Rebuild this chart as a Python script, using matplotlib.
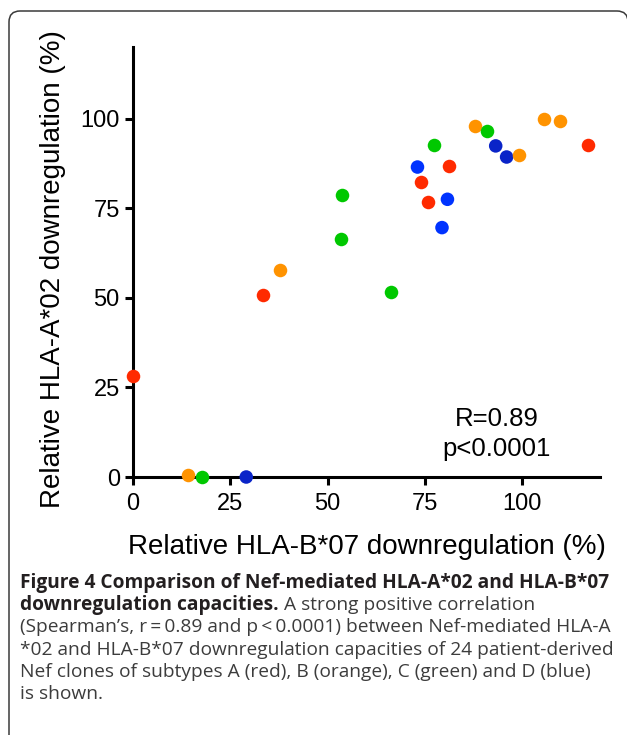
import matplotlib
matplotlib.use('Agg')
import matplotlib.pyplot as plt
from matplotlib.patches import FancyBboxPatch

# subtype A (red), B (orange), C (green), D (blue)
red_x = [0, 33.4, 74.1, 75.9, 81.2, 117.0]
red_y = [28.3, 50.8, 82.4, 76.8, 86.9, 92.7]
orange_x = [14.1, 37.7, 88.0, 99.1, 105.6, 109.6]
orange_y = [0.5, 57.8, 98.0, 90.0, 99.8, 99.4]
green_x = [17.7, 53.8, 53.5, 66.4, 77.3, 91.0]
green_y = [0, 78.7, 66.3, 51.7, 92.7, 96.5]
blue_x = [29.1, 73.1, 80.8, 79.4, 93.2, 96.0]
blue_y = [0, 86.5, 77.5, 69.6, 92.4, 89.3]

ticks = [0, 25, 50, 75, 100]
stats_text = 'R=0.89\np<0.0001'

caption_bold1 = 'Figure 4 Comparison of Nef-mediated HLA-A*02 and HLA-B*07'
caption_bold2 = 'downregulation capacities.'
caption_rest2 = ' A strong positive correlation'
caption_lines = [
    '(Spearman\u2019s, r\u2009=\u20090.89 and p\u2009<\u20090.0001) between Nef-mediated HLA-A',
    '*02 and HLA-B*07 downregulation capacities of 24 patient-derived',
    'Nef clones of subtypes A (red), B (orange), C (green) and D (blue)',
    'is shown.',
]

W, H = 627, 735
fig = plt.figure(figsize=(W / 100, H / 100), dpi=100)
ax = fig.add_axes([133 / W, 1 - 477 / H, 467 / W, 430 / H])

chart_font = 'Liberation Sans'
ms = 95
blue_shades = ['#0a24c8', '#0033ff', '#0033ff', '#0033ff', '#0a24c8', '#0a24c8']
ax.scatter(red_x, red_y, s=ms, color='#ff2a00', lw=0, clip_on=False, zorder=3)
ax.scatter(blue_x, blue_y, s=ms, color=blue_shades, lw=0, clip_on=False, zorder=3)
ax.scatter(orange_x, orange_y, s=ms, color='#ff9300', lw=0, clip_on=False, zorder=4)
ax.scatter(green_x, green_y, s=ms, color='#00c800', lw=0, clip_on=False, zorder=5)

ax.set_xlim(0, 120)
ax.set_ylim(0, 120)
ax.set_xticks(ticks)
ax.set_yticks(ticks)
for side in ['top', 'right']:
    ax.spines[side].set_visible(False)
for side in ['left', 'bottom']:
    ax.spines[side].set_linewidth(2.2)
ax.tick_params(width=2.2, length=6, labelsize=17)
ax.tick_params(axis='x', pad=5.5)
ax.tick_params(axis='y', pad=3.5)
for lab in ax.get_xticklabels() + ax.get_yticklabels():
    lab.set_fontfamily(chart_font)

ax.set_xlabel('Relative HLA-B*07 downregulation (%)', fontsize=20, family=chart_font)
ax.set_ylabel('Relative HLA-A*02 downregulation (%)', fontsize=20, family=chart_font)
ax.xaxis.set_label_coords(0.502, -0.133)
ax.yaxis.set_label_coords(-0.143, 0.483)

ax.text(93.5, 12, stats_text, ha='center', va='center', fontsize=18.5,
        family=chart_font, linespacing=1.35)

# caption
cap_font = 'Open Sans'
cap_size = 13.8
x0 = 20 / W
base = [588, 610, 632.5, 655, 677, 699]
fig.text(x0, 1 - base[0] / H, caption_bold1, fontsize=cap_size, family=cap_font,
         weight='bold', color='#231f20', va='baseline')
t = fig.text(x0, 1 - base[1] / H, caption_bold2, fontsize=cap_size, family=cap_font,
             weight='bold', color='#231f20', va='baseline')
fig.canvas.draw()
bb = t.get_window_extent()
fig.text(bb.x1 / W, 1 - base[1] / H, caption_rest2, fontsize=cap_size, family=cap_font,
         color='#3c3c3c', va='baseline')
for i, line in enumerate(caption_lines):
    fig.text(x0, 1 - base[i + 2] / H, line, fontsize=cap_size, family=cap_font,
             color='#3c3c3c', va='baseline')

# frame round the figure
frame = FancyBboxPatch((9, -30), 619, H - 11 + 30,
                       boxstyle='round,pad=0,rounding_size=11',
                       transform=None, fill=False, ec='#3a3a3a', lw=1.1)
fig.patches.append(frame)

fig.savefig('out.png', dpi=100)
